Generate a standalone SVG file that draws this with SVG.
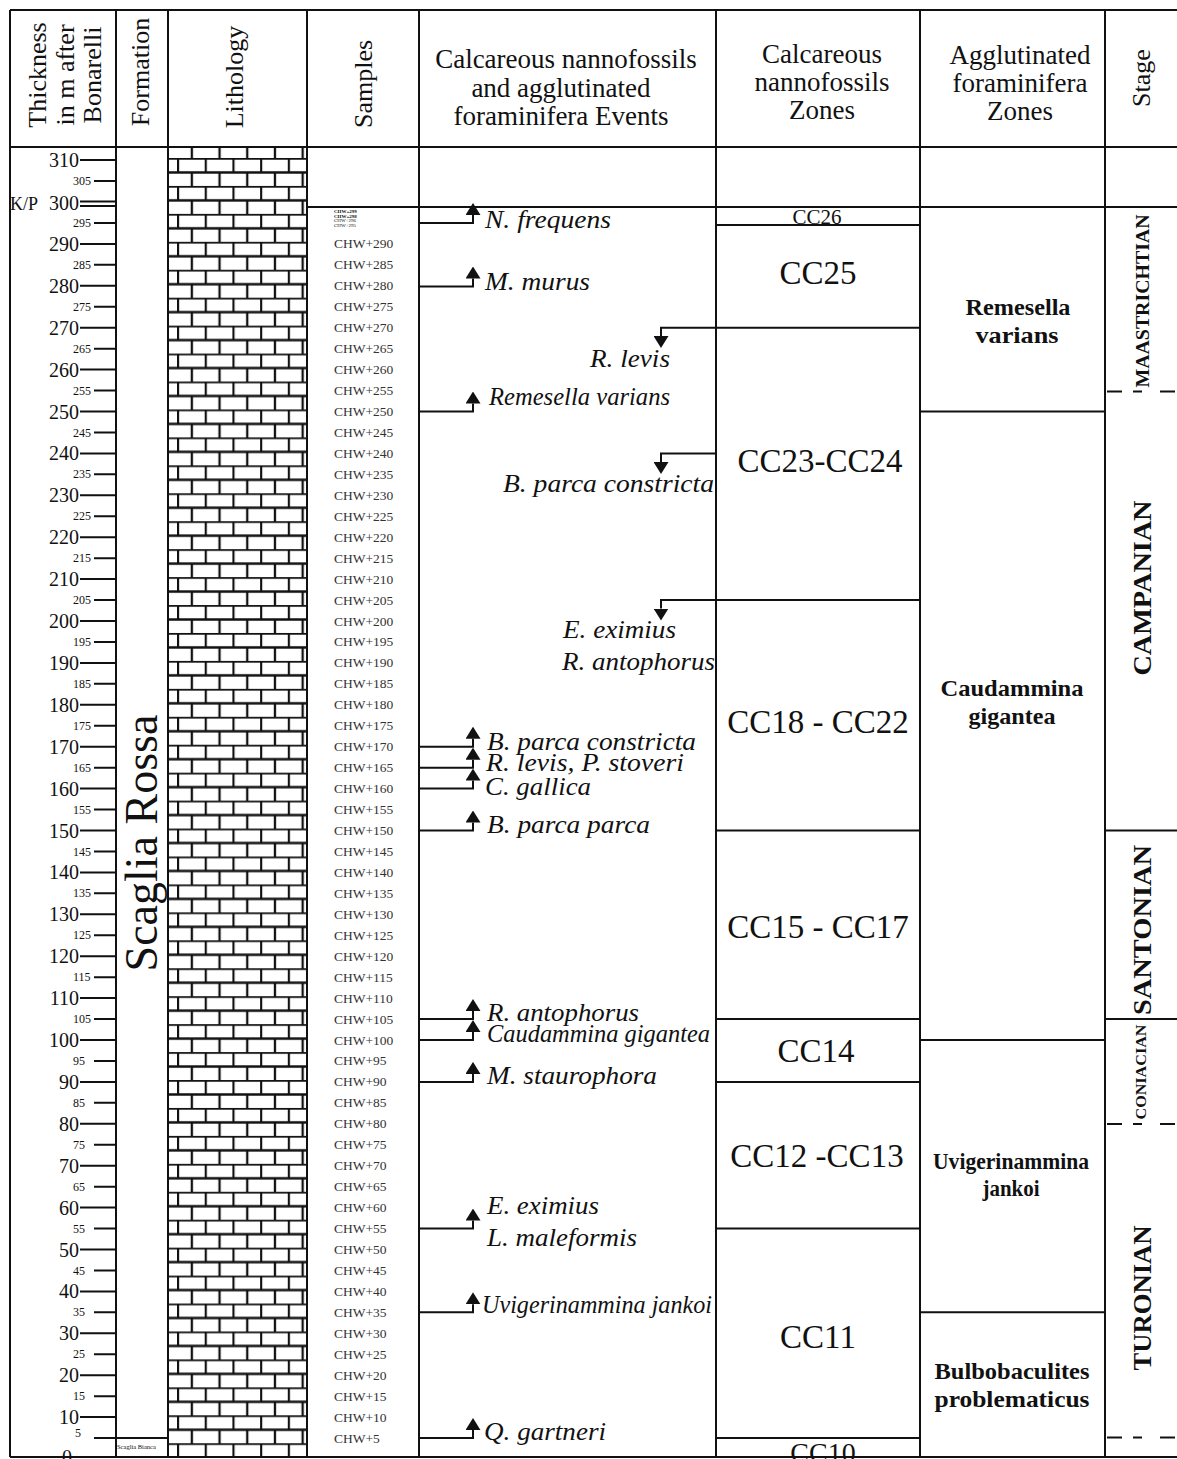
<svg xmlns="http://www.w3.org/2000/svg" width="1177" height="1459" viewBox="0 0 1177 1459">
<defs>
<style>
.t{font-family:"Liberation Serif","Times New Roman",serif;fill:#111}
.h{font-size:26px}
.hh{font-size:27px;text-anchor:middle}
.ev{font-size:26px;font-style:italic}
.cc{font-size:33px;text-anchor:middle}
.ag{font-size:23px;font-weight:bold;text-anchor:middle}
.st{font-weight:bold;text-anchor:middle}
.mj{font-size:20px;text-anchor:end}
.mn{font-size:12px}
.sm{font-size:13.5px;fill:#333}
.ln{stroke:#111;stroke-width:2;fill:none}
.cn{stroke:#111;stroke-width:2;fill:none}
.ds{stroke:#111;stroke-width:2;fill:none;stroke-dasharray:15 11 9 18 15}
</style>
<pattern id="brick" patternUnits="userSpaceOnUse" x="177" y="158" width="27.7" height="27.94">
<rect width="27.7" height="27.94" fill="#fff"/>
<path d="M0,0.5 H27.7 M0,14.47 H27.7 M1,0 V13.97 M14.85,13.97 V27.94" stroke="#111" stroke-width="2.3" fill="none"/>
</pattern>
<marker id="ah" viewBox="0 0 12 15" refX="0" refY="7.5" markerWidth="12" markerHeight="15" markerUnits="userSpaceOnUse" orient="auto">
<path d="M0,0 L12,7.5 L0,15 z" fill="#111"/>
</marker>
</defs>
<rect width="1177" height="1459" fill="#fff"/>

<g id="lithology">
<rect x="169" y="147" width="137" height="1310" fill="url(#brick)"/>
</g>

<g id="grid">
<path class="ln" d="M10,10 H1177 M10,147 H1177 M10,10 V1457 M116,10 V1457 M168,10 V1457 M307,10 V1457 M419,10 V1457 M716,10 V1457 M920,10 V1457 M1105,10 V1457 M10,1457 H1177"/>
<path class="ln" d="M307,207 H1177"/>
<path class="ln" d="M116,1438 H168"/>
</g>

<g id="header">
<g transform="translate(0,75) rotate(-90)">
<text class="t h" x="0" y="46" text-anchor="middle">Thickness</text>
<text class="t h" x="0" y="74" text-anchor="middle">in m after</text>
<text class="t h" x="0" y="101" text-anchor="middle">Bonarelli</text>
</g>
<text class="t h" transform="translate(149,72) rotate(-90)" text-anchor="middle">Formation</text>
<text class="t h" transform="translate(243,77) rotate(-90)" text-anchor="middle">Lithology</text>
<text class="t h" transform="translate(372,84) rotate(-90)" text-anchor="middle">Samples</text>
<text class="t hh" x="566" y="68">Calcareous nannofossils</text>
<text class="t hh" x="561" y="97">and agglutinated</text>
<text class="t hh" x="561" y="125">foraminifera Events</text>
<text class="t hh" x="822" y="63">Calcareous</text>
<text class="t hh" x="822" y="91">nannofossils</text>
<text class="t hh" x="822" y="119">Zones</text>
<text class="t hh" x="1020" y="64">Agglutinated</text>
<text class="t hh" x="1020" y="92">foraminifera</text>
<text class="t hh" x="1020" y="120">Zones</text>
<text class="t h" transform="translate(1150,78) rotate(-90)" text-anchor="middle">Stage</text>
</g>

<g id="scale">
<path class="ln" stroke-width="2.5" d="M80,160.1H116 M80,243.9H116 M80,285.8H116 M80,327.7H116 M80,369.6H116 M80,411.5H116 M80,453.4H116 M80,495.3H116 M80,537.2H116 M80,579.1H116 M80,621H116 M80,662.9H116 M80,704.8H116 M80,746.7H116 M80,788.6H116 M80,830.5H116 M80,872.4H116 M80,914.3H116 M80,956.2H116 M80,998.1H116 M80,1040H116 M80,1081.9H116 M80,1123.8H116 M80,1165.7H116 M80,1207.6H116 M80,1249.5H116 M80,1291.4H116 M80,1333.3H116 M80,1375.2H116 M80,1417.1H116 M80,201.5H116 M80,206H116"/>
<path class="ln" stroke-width="2.5" d="M94,181.05H116 M94,222.95H116 M94,264.85H116 M94,306.75H116 M94,348.65H116 M94,390.55H116 M94,432.45H116 M94,474.35H116 M94,516.25H116 M94,558.15H116 M94,600.05H116 M94,641.95H116 M94,683.85H116 M94,725.75H116 M94,767.65H116 M94,809.55H116 M94,851.45H116 M94,893.35H116 M94,935.25H116 M94,977.15H116 M94,1019.05H116 M94,1060.95H116 M94,1102.85H116 M94,1144.75H116 M94,1186.65H116 M94,1228.55H116 M94,1270.45H116 M94,1312.35H116 M94,1354.25H116 M94,1396.15H116 M94,1438.05H116"/>
<text class="t mj" x="79" y="167">310</text>
<text class="t mj" x="79" y="210">300</text>
<text class="t" x="10" y="210" font-size="18">K/P</text>
<text class="t mj" x="79" y="251">290</text>
<text class="t mj" x="79" y="293">280</text>
<text class="t mj" x="79" y="335">270</text>
<text class="t mj" x="79" y="377">260</text>
<text class="t mj" x="79" y="418.5">250</text>
<text class="t mj" x="79" y="460.4">240</text>
<text class="t mj" x="79" y="502.3">230</text>
<text class="t mj" x="79" y="544.2">220</text>
<text class="t mj" x="79" y="586.1">210</text>
<text class="t mj" x="79" y="628">200</text>
<text class="t mj" x="79" y="669.9">190</text>
<text class="t mj" x="79" y="711.8">180</text>
<text class="t mj" x="79" y="753.7">170</text>
<text class="t mj" x="79" y="795.6">160</text>
<text class="t mj" x="79" y="837.5">150</text>
<text class="t mj" x="79" y="879.4">140</text>
<text class="t mj" x="79" y="921.3">130</text>
<text class="t mj" x="79" y="963.2">120</text>
<text class="t mj" x="79" y="1005.1">110</text>
<text class="t mj" x="79" y="1047">100</text>
<text class="t mj" x="79" y="1088.9">90</text>
<text class="t mj" x="79" y="1130.8">80</text>
<text class="t mj" x="79" y="1172.7">70</text>
<text class="t mj" x="79" y="1214.6">60</text>
<text class="t mj" x="79" y="1256.5">50</text>
<text class="t mj" x="79" y="1298.4">40</text>
<text class="t mj" x="79" y="1340.3">30</text>
<text class="t mj" x="79" y="1382.2">20</text>
<text class="t mj" x="79" y="1424.1">10</text>
<text class="t" x="62" y="1464" font-size="20">0</text>
<text class="t mn" x="73" y="185">305</text>
<text class="t mn" x="73" y="227">295</text>
<text class="t mn" x="73" y="269">285</text>
<text class="t mn" x="73" y="311">275</text>
<text class="t mn" x="73" y="353">265</text>
<text class="t mn" x="73" y="395">255</text>
<text class="t mn" x="73" y="436.5">245</text>
<text class="t mn" x="73" y="478.4">235</text>
<text class="t mn" x="73" y="520.3">225</text>
<text class="t mn" x="73" y="562.2">215</text>
<text class="t mn" x="73" y="604">205</text>
<text class="t mn" x="73" y="646">195</text>
<text class="t mn" x="73" y="688">185</text>
<text class="t mn" x="73" y="730">175</text>
<text class="t mn" x="73" y="771.7">165</text>
<text class="t mn" x="73" y="813.6">155</text>
<text class="t mn" x="73" y="855.5">145</text>
<text class="t mn" x="73" y="897.4">135</text>
<text class="t mn" x="73" y="939.3">125</text>
<text class="t mn" x="73" y="981.2">115</text>
<text class="t mn" x="73" y="1023">105</text>
<text class="t mn" x="73" y="1065">95</text>
<text class="t mn" x="73" y="1106.9">85</text>
<text class="t mn" x="73" y="1148.8">75</text>
<text class="t mn" x="73" y="1190.7">65</text>
<text class="t mn" x="73" y="1232.6">55</text>
<text class="t mn" x="73" y="1274.5">45</text>
<text class="t mn" x="73" y="1316.4">35</text>
<text class="t mn" x="73" y="1358.3">25</text>
<text class="t mn" x="73" y="1400.2">15</text>
<text class="t mn" x="75" y="1437">5</text>
</g>

<g id="formation">
<text class="t" transform="translate(0,843) rotate(-90)" x="0" y="157" font-size="46" text-anchor="middle">Scaglia Rossa</text>
<text class="t" x="117" y="1449" font-size="6.5">Scaglia Bianca</text>
</g>

<g id="samples">
<text class="t" x="334" y="213" font-size="5" font-weight="bold">CHW+299</text>
<text class="t" x="334" y="217.5" font-size="5" font-weight="bold">CHW+298</text>
<text class="t" x="334" y="222" font-size="5">CHW+296</text>
<text class="t" x="334" y="226.5" font-size="5">CHW+295</text>
<text class="t sm" x="334" y="248.4">CHW+290</text>
<text class="t sm" x="334" y="269.35">CHW+285</text>
<text class="t sm" x="334" y="290.3">CHW+280</text>
<text class="t sm" x="334" y="311.25">CHW+275</text>
<text class="t sm" x="334" y="332.2">CHW+270</text>
<text class="t sm" x="334" y="353.15">CHW+265</text>
<text class="t sm" x="334" y="374.1">CHW+260</text>
<text class="t sm" x="334" y="395.05">CHW+255</text>
<text class="t sm" x="334" y="416">CHW+250</text>
<text class="t sm" x="334" y="436.95">CHW+245</text>
<text class="t sm" x="334" y="457.9">CHW+240</text>
<text class="t sm" x="334" y="478.85">CHW+235</text>
<text class="t sm" x="334" y="499.8">CHW+230</text>
<text class="t sm" x="334" y="520.75">CHW+225</text>
<text class="t sm" x="334" y="541.7">CHW+220</text>
<text class="t sm" x="334" y="562.65">CHW+215</text>
<text class="t sm" x="334" y="583.6">CHW+210</text>
<text class="t sm" x="334" y="604.55">CHW+205</text>
<text class="t sm" x="334" y="625.5">CHW+200</text>
<text class="t sm" x="334" y="646.45">CHW+195</text>
<text class="t sm" x="334" y="667.4">CHW+190</text>
<text class="t sm" x="334" y="688.35">CHW+185</text>
<text class="t sm" x="334" y="709.3">CHW+180</text>
<text class="t sm" x="334" y="730.25">CHW+175</text>
<text class="t sm" x="334" y="751.2">CHW+170</text>
<text class="t sm" x="334" y="772.15">CHW+165</text>
<text class="t sm" x="334" y="793.1">CHW+160</text>
<text class="t sm" x="334" y="814.05">CHW+155</text>
<text class="t sm" x="334" y="835">CHW+150</text>
<text class="t sm" x="334" y="855.95">CHW+145</text>
<text class="t sm" x="334" y="876.9">CHW+140</text>
<text class="t sm" x="334" y="897.85">CHW+135</text>
<text class="t sm" x="334" y="918.8">CHW+130</text>
<text class="t sm" x="334" y="939.75">CHW+125</text>
<text class="t sm" x="334" y="960.7">CHW+120</text>
<text class="t sm" x="334" y="981.65">CHW+115</text>
<text class="t sm" x="334" y="1002.6">CHW+110</text>
<text class="t sm" x="334" y="1023.55">CHW+105</text>
<text class="t sm" x="334" y="1044.5">CHW+100</text>
<text class="t sm" x="334" y="1065.45">CHW+95</text>
<text class="t sm" x="334" y="1086.4">CHW+90</text>
<text class="t sm" x="334" y="1107.35">CHW+85</text>
<text class="t sm" x="334" y="1128.3">CHW+80</text>
<text class="t sm" x="334" y="1149.25">CHW+75</text>
<text class="t sm" x="334" y="1170.2">CHW+70</text>
<text class="t sm" x="334" y="1191.15">CHW+65</text>
<text class="t sm" x="334" y="1212.1">CHW+60</text>
<text class="t sm" x="334" y="1233.05">CHW+55</text>
<text class="t sm" x="334" y="1254">CHW+50</text>
<text class="t sm" x="334" y="1274.95">CHW+45</text>
<text class="t sm" x="334" y="1295.9">CHW+40</text>
<text class="t sm" x="334" y="1316.85">CHW+35</text>
<text class="t sm" x="334" y="1337.8">CHW+30</text>
<text class="t sm" x="334" y="1358.75">CHW+25</text>
<text class="t sm" x="334" y="1379.7">CHW+20</text>
<text class="t sm" x="334" y="1400.65">CHW+15</text>
<text class="t sm" x="334" y="1421.6">CHW+10</text>
<text class="t sm" x="334" y="1442.55">CHW+5</text>
</g>

<g id="connectors">
<path class="cn" marker-end="url(#ah)" d="M419,223 H473 V215"/>
<path class="cn" marker-end="url(#ah)" d="M419,286.5 H473 V278.5"/>
<path class="cn" marker-end="url(#ah)" d="M419,411.5 H473 V403.5"/>
<path class="cn" marker-end="url(#ah)" d="M419,746.7 H473 V738.7"/>
<path class="cn" marker-end="url(#ah)" d="M419,767.65 H473 V759.65"/>
<path class="cn" marker-end="url(#ah)" d="M419,788.6 H473 V780.6"/>
<path class="cn" marker-end="url(#ah)" d="M419,830.5 H473 V822.5"/>
<path class="cn" marker-end="url(#ah)" d="M419,1019.05 H473 V1011.05"/>
<path class="cn" marker-end="url(#ah)" d="M419,1040 H473 V1032"/>
<path class="cn" marker-end="url(#ah)" d="M419,1081.9 H473 V1073.9"/>
<path class="cn" marker-end="url(#ah)" d="M419,1228.55 H473 V1220.55"/>
<path class="cn" marker-end="url(#ah)" d="M419,1312.35 H473 V1304.35"/>
<path class="cn" marker-end="url(#ah)" d="M419,1438.05 H473 V1430.05"/>
<path class="cn" marker-end="url(#ah)" d="M920,327.7 H661 V336"/>
<path class="cn" marker-end="url(#ah)" d="M716,453.4 H661 V462"/>
<path class="cn" marker-end="url(#ah)" d="M920,600.05 H661 V608.5"/>
</g>

<g id="events">
<text class="t ev" x="485" y="228" textLength="126" lengthAdjust="spacingAndGlyphs">N. frequens</text>
<text class="t ev" x="485" y="290" textLength="105" lengthAdjust="spacingAndGlyphs">M. murus</text>
<text class="t ev" x="489" y="405" textLength="181" lengthAdjust="spacingAndGlyphs">Remesella varians</text>
<text class="t ev" x="590" y="367" textLength="80" lengthAdjust="spacingAndGlyphs">R. levis</text>
<text class="t ev" x="503" y="492" textLength="211" lengthAdjust="spacingAndGlyphs">B. parca constricta</text>
<text class="t ev" x="563" y="638" textLength="113" lengthAdjust="spacingAndGlyphs">E. eximius</text>
<text class="t ev" x="562" y="670" textLength="153" lengthAdjust="spacingAndGlyphs">R. antophorus</text>
<text class="t ev" x="487" y="750" textLength="209" lengthAdjust="spacingAndGlyphs">B. parca constricta</text>
<text class="t ev" x="486" y="771" textLength="198" lengthAdjust="spacingAndGlyphs">R. levis, P. stoveri</text>
<text class="t ev" x="485" y="795" textLength="106" lengthAdjust="spacingAndGlyphs">C. gallica</text>
<text class="t ev" x="487" y="833" textLength="163" lengthAdjust="spacingAndGlyphs">B. parca parca</text>
<text class="t ev" x="487" y="1021" textLength="152" lengthAdjust="spacingAndGlyphs">R. antophorus</text>
<text class="t ev" x="487" y="1042" textLength="223" lengthAdjust="spacingAndGlyphs">Caudammina gigantea</text>
<text class="t ev" x="487" y="1084" textLength="170" lengthAdjust="spacingAndGlyphs">M. staurophora</text>
<text class="t ev" x="487" y="1214" textLength="112" lengthAdjust="spacingAndGlyphs">E. eximius</text>
<text class="t ev" x="487" y="1246" textLength="150" lengthAdjust="spacingAndGlyphs">L. maleformis</text>
<text class="t ev" x="482" y="1313" textLength="230" lengthAdjust="spacingAndGlyphs">Uvigerinammina jankoi</text>
<text class="t ev" x="484" y="1440" textLength="122" lengthAdjust="spacingAndGlyphs">Q. gartneri</text>
</g>

<g id="cc-zones">
<path class="ln" d="M716,225 H920 M716,830.5 H920 M716,1019.05 H920 M716,1081.9 H920 M716,1228.55 H920 M716,1438.05 H920"/>
<text class="t cc" x="817" y="224" style="font-size:21px">CC26</text>
<text class="t cc" x="818" y="284">CC25</text>
<text class="t cc" x="820" y="472">CC23-CC24</text>
<text class="t cc" x="818" y="733">CC18 - CC22</text>
<text class="t cc" x="818" y="938">CC15 - CC17</text>
<text class="t cc" x="816" y="1062">CC14</text>
<text class="t cc" x="817" y="1167">CC12 -CC13</text>
<text class="t cc" x="818" y="1348">CC11</text>
<text class="t cc" x="823" y="1462" style="font-size:28px">CC10</text>
</g>

<g id="agglutinated-zones">
<path class="ln" d="M920,411.5 H1105 M920,1040 H1105 M920,1312.35 H1105"/>
<text class="t ag" x="1018" y="315" textLength="105" lengthAdjust="spacingAndGlyphs">Remesella</text>
<text class="t ag" x="1017" y="343" textLength="83" lengthAdjust="spacingAndGlyphs">varians</text>
<text class="t ag" x="1012" y="696" textLength="143" lengthAdjust="spacingAndGlyphs">Caudammina</text>
<text class="t ag" x="1012" y="724" textLength="87" lengthAdjust="spacingAndGlyphs">gigantea</text>
<text class="t ag" x="1011" y="1169" textLength="156" lengthAdjust="spacingAndGlyphs">Uvigerinammina</text>
<text class="t ag" x="1011" y="1196" textLength="57" lengthAdjust="spacingAndGlyphs">jankoi</text>
<text class="t ag" x="1012" y="1379" textLength="155" lengthAdjust="spacingAndGlyphs">Bulbobaculites</text>
<text class="t ag" x="1012" y="1407" textLength="155" lengthAdjust="spacingAndGlyphs">problematicus</text>
</g>

<g id="stages">
<path class="ds" d="M1107,391.5 H1177 M1107,1124 H1177 M1107,1437.5 H1177"/>
<path class="ln" d="M1105,830.5 H1177 M1105,1019.05 H1177"/>
<text class="t st" transform="translate(1149,301) rotate(-90)" font-size="19" textLength="173" lengthAdjust="spacingAndGlyphs">MAASTRICHTIAN</text>
<text class="t st" transform="translate(1151,588) rotate(-90)" font-size="26" textLength="175" lengthAdjust="spacingAndGlyphs">CAMPANIAN</text>
<text class="t st" transform="translate(1151,930) rotate(-90)" font-size="26" textLength="170" lengthAdjust="spacingAndGlyphs">SANTONIAN</text>
<text class="t st" transform="translate(1146,1072) rotate(-90)" font-size="14" textLength="95" lengthAdjust="spacingAndGlyphs">CONIACIAN</text>
<text class="t st" transform="translate(1151,1298) rotate(-90)" font-size="26" textLength="145" lengthAdjust="spacingAndGlyphs">TURONIAN</text>
</g>
</svg>
